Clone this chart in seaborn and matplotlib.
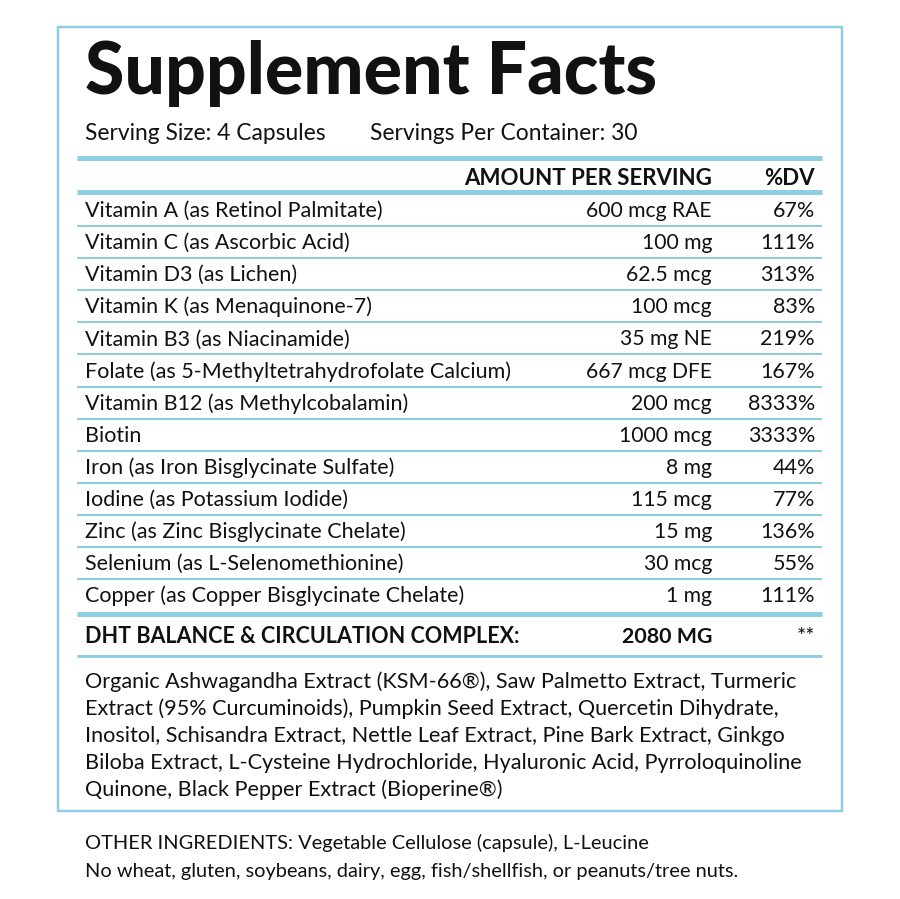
import numpy as np
import seaborn as sns
import matplotlib.pyplot as plt

# Label content
title = "Supplement Facts"
serving_size = "Serving Size: 4 Capsules"
servings_per = "Servings Per Container: 30"
header_amount = "AMOUNT PER SERVING"
header_dv = "%DV"

nutrients = [
    "Vitamin A (as Retinol Palmitate)",
    "Vitamin C (as Ascorbic Acid)",
    "Vitamin D3 (as Lichen)",
    "Vitamin K (as Menaquinone-7)",
    "Vitamin B3 (as Niacinamide)",
    "Folate (as 5-Methyltetrahydrofolate Calcium)",
    "Vitamin B12 (as Methylcobalamin)",
    "Biotin",
    "Iron (as Iron Bisglycinate Sulfate)",
    "Iodine (as Potassium Iodide)",
    "Zinc (as Zinc Bisglycinate Chelate)",
    "Selenium (as L-Selenomethionine)",
    "Copper (as Copper Bisglycinate Chelate)",
]
amounts = ["600 mcg RAE", "100 mg", "62.5 mcg", "100 mcg", "35 mg NE",
           "667 mcg DFE", "200 mcg", "1000 mcg", "8 mg", "115 mcg",
           "15 mg", "30 mcg", "1 mg"]
daily_values = ["67%", "111%", "313%", "83%", "219%", "167%", "8333%",
                "3333%", "44%", "77%", "136%", "55%", "111%"]

blend_name = "DHT BALANCE & CIRCULATION COMPLEX:"
blend_amount = "2080 MG"
blend_dv = "**"
blend_lines = [
    "Organic Ashwagandha Extract (KSM-66®), Saw Palmetto Extract, Turmeric",
    "Extract (95% Curcuminoids), Pumpkin Seed Extract, Quercetin Dihydrate,",
    "Inositol, Schisandra Extract, Nettle Leaf Extract, Pine Bark Extract, Ginkgo",
    "Biloba Extract, L-Cysteine Hydrochloride, Hyaluronic Acid, Pyrroloquinoline",
    "Quinone, Black Pepper Extract (Bioperine®)",
]
footer_lines = [
    "OTHER INGREDIENTS: Vegetable Cellulose (capsule), L-Leucine",
    "No wheat, gluten, soybeans, dairy, egg, fish/shellfish, or peanuts/tree nuts.",
]

sns.set_theme(style="white")
plt.rcParams['font.family'] = ['Lato', 'DejaVu Sans']

blue = "#8DCFE2"
ink = "#111111"
px = 0.72  # points per pixel at dpi 100

fig = plt.figure(figsize=(9, 8.99), dpi=100)
ax = fig.add_axes([0, 0, 1, 1])
ax.set_xlim(0, 900)
ax.set_ylim(899, 0)
ax.axis('off')

# outer border
ax.add_patch(plt.Rectangle((57.5, 27), 784, 783.5, fill=False,
                           edgecolor=blue, lw=2.5 * px))

left, right_amt, right_dv = 85, 712, 815
rule_x0, rule_x1 = 77, 822

ax.text(left, 94, title, fontsize=51.5, fontweight='black', color=ink,
        va='baseline', ha='left')
ax.text(left, 139.5, serving_size, fontsize=16.4, color=ink, va='baseline')
ax.text(370, 139.5, servings_per, fontsize=16.4, color=ink, va='baseline')

ax.hlines([158.3, 192.3], rule_x0, rule_x1, color=blue, lw=5 * px)
ax.text(right_amt, 185, header_amount, fontsize=16, fontweight='bold',
        color=ink, ha='right', va='baseline')
ax.text(right_dv, 185, header_dv, fontsize=16, fontweight='bold',
        color=ink, ha='right', va='baseline')

row_y = 217 + 32.1 * np.arange(len(nutrients))
for y, name, amt, dv in zip(row_y, nutrients, amounts, daily_values):
    ax.text(left, y, name, fontsize=15.5, color=ink, va='baseline')
    ax.text(right_amt, y, amt, fontsize=15.2, color=ink, ha='right', va='baseline')
    ax.text(right_dv, y, dv, fontsize=15.5, color=ink, ha='right', va='baseline')
ax.hlines(row_y[:-1] + 9, rule_x0, rule_x1, color=blue, lw=2 * px)

ax.hlines(614, rule_x0, rule_x1, color=blue, lw=5 * px)
ax.text(left, 643, blend_name, fontsize=15.5, fontweight='bold', color=ink,
        va='baseline')
ax.text(right_amt, 643, blend_amount, fontsize=15.4, fontweight='bold',
        color=ink, ha='right', va='baseline')
ax.text(right_dv, 643, blend_dv, fontsize=15.5, color=ink, ha='right',
        va='baseline')
ax.hlines(656, rule_x0, rule_x1, color=blue, lw=3 * px)

for i, line in enumerate(blend_lines):
    ax.text(left, 688 + 27 * i, line, fontsize=15.6, color=ink, va='baseline')

for i, line in enumerate(footer_lines):
    ax.text(left, 849 + 28 * i, line, fontsize=14.4, color=ink, va='baseline')

fig.savefig('out.png', dpi=100, facecolor='white')
